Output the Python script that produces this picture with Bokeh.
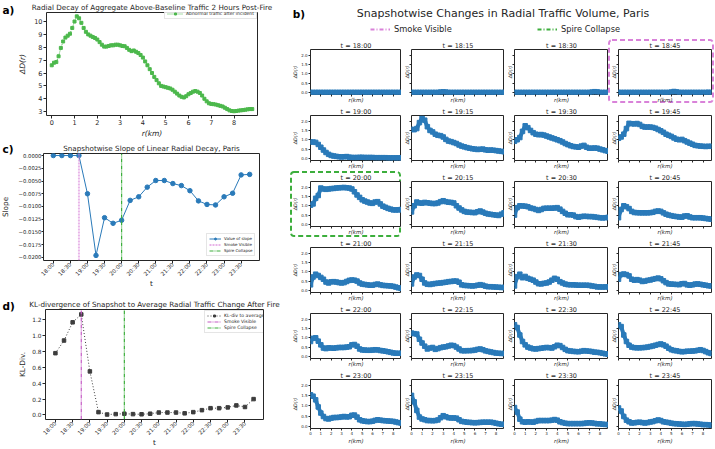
import math
from bokeh.plotting import figure
from bokeh.layouts import row, column
from bokeh.models import (Range1d, FixedTicker, Legend, LegendItem, Label,
                          CustomJSTickFormatter)
from bokeh.embed import file_html
from bokeh.resources import INLINE

FONT = "DejaVu Sans"
INK = "#262626"
FRAME = "#262626"
BLUE = "#2a7ab9"
GREEN = "#4cb84c"
SMOKE = "#d982d9"
SMOKE_DARK = "#c45ac4"
SPIRE = "#3cae3c"
KL_GRAY = "#3d3d3d"

# ---------------- data ----------------
# (a) aggregate above-baseline traffic change by radius, 2 h after the fire
r_agg_km = [0.0, 0.1, 0.2, 0.3, 0.4, 0.5, 0.6, 0.7, 0.8, 0.9,
            1.0, 1.1, 1.2, 1.3, 1.4, 1.5, 1.6, 1.7, 1.8, 1.9,
            2.0, 2.1, 2.2, 2.3, 2.4, 2.5, 2.6, 2.7, 2.8, 2.9,
            3.0, 3.1, 3.2, 3.3, 3.4, 3.5, 3.6, 3.7, 3.8, 3.9,
            4.0, 4.1, 4.2, 4.3, 4.4, 4.5, 4.6, 4.7, 4.8, 4.9,
            5.0, 5.1, 5.2, 5.3, 5.4, 5.5, 5.6, 5.7, 5.8, 5.9,
            6.0, 6.1, 6.2, 6.3, 6.4, 6.5, 6.6, 6.7, 6.8, 6.9,
            7.0, 7.1, 7.2, 7.3, 7.4, 7.5, 7.6, 7.7, 7.8, 7.9,
            8.0, 8.1, 8.2, 8.3, 8.4, 8.5, 8.6, 8.7, 8.8]
agg_delta = [6.60, 6.80, 6.85, 7.30, 7.95, 8.45, 8.75, 8.90, 9.05, 9.50,
             10.00, 10.40, 10.25, 9.90, 9.50, 9.20, 9.00, 8.90, 8.80, 8.72,
             8.60, 8.40, 8.20, 8.05, 8.05, 8.10, 8.15, 8.15, 8.20, 8.20,
             8.15, 8.10, 8.08, 7.95, 7.80, 7.70, 7.75, 7.65, 7.55, 7.40,
             7.20, 6.90, 6.60, 6.30, 6.00, 5.70, 5.45, 5.20, 5.00, 4.95,
             4.90, 4.85, 4.80, 4.70, 4.55, 4.40, 4.25, 4.15, 4.10, 4.20,
             4.35, 4.45, 4.55, 4.60, 4.55, 4.45, 4.25, 4.00, 3.80, 3.65,
             3.60, 3.58, 3.55, 3.50, 3.45, 3.40, 3.30, 3.20, 3.10, 3.05,
             3.03, 3.05, 3.08, 3.10, 3.12, 3.15, 3.18, 3.20, 3.20]

# snapshot times (15 min)
snap_times = ["18:00", "18:15", "18:30", "18:45", "19:00", "19:15", "19:30", "19:45",
              "20:00", "20:15", "20:30", "20:45", "21:00", "21:15", "21:30", "21:45",
              "22:00", "22:15", "22:30", "22:45", "23:00", "23:15", "23:30", "23:45"]
smoke_time = "18:45"
spire_time = "20:00"

# (c) slope of the linear radial decay per snapshot
slope_vals = [0.0, 0.0, 0.0, 0.0, -0.0075, -0.0196, -0.0122, -0.0133,
              -0.0127, -0.0088, -0.0081, -0.0062, -0.0049, -0.0049, -0.0055, -0.0059,
              -0.0069, -0.0089, -0.0096, -0.0097, -0.0081, -0.0074, -0.0038, -0.0037]

# (d) KL divergence of each snapshot to the average post-fire profile
kl_vals = [0.78, 0.94, 1.17, 1.27, 0.55, 0.035, 0.005, 0.010,
           0.015, 0.010, 0.008, 0.015, 0.030, 0.030, 0.030, 0.020,
           0.035, 0.060, 0.085, 0.085, 0.095, 0.120, 0.100, 0.200]

# (b) radial traffic change per snapshot
r_snap_km = [0.0, 0.25, 0.5, 0.75, 1.0, 1.25, 1.5, 1.75, 2.0, 2.25, 2.5, 2.75,
             3.0, 3.25, 3.5, 3.75, 4.0, 4.25, 4.5, 4.75, 5.0, 5.25, 5.5, 5.75,
             6.0, 6.25, 6.5, 6.75, 7.0, 7.25, 7.5, 7.75, 8.0, 8.25, 8.5, 8.75]
d_1800 = [0.0, 0.0, 0.0, 0.0, 0.0, 0.0, 0.0, 0.0, 0.0, 0.0, 0.0, 0.0,
          0.0, 0.0, 0.0, 0.0, 0.0, 0.0, 0.0, 0.0, 0.0, 0.0, 0.0, 0.0,
          0.0, 0.0, 0.0, 0.0, 0.0, 0.0, 0.0, 0.0, 0.0, 0.0, 0.0, 0.0]
d_1815 = [0.0, 0.0, 0.0, 0.0, 0.0, 0.0, 0.0, 0.0, 0.0, 0.0, 0.0, 0.02,
          0.03, 0.02, 0.0, 0.0, 0.0, 0.0, 0.0, 0.0, 0.0, 0.0, 0.0, 0.0,
          0.0, 0.0, 0.0, 0.0, 0.0, 0.0, 0.0, 0.0, 0.0, 0.0, 0.0, 0.0]
d_1830 = [0.0, 0.0, 0.0, 0.0, 0.0, 0.0, 0.0, 0.0, 0.0, 0.0, 0.0, 0.0,
          0.0, 0.0, 0.0, 0.0, 0.0, 0.0, 0.0, 0.0, 0.0, 0.0, 0.0, 0.0,
          0.0, 0.0, 0.0, 0.0, 0.0, 0.02, 0.04, 0.03, 0.0, 0.0, 0.0, 0.0]
d_1845 = [0.0, 0.0, 0.0, 0.0, 0.0, 0.0, 0.0, 0.0, 0.0, 0.0, 0.0, 0.0,
          0.0, 0.0, 0.0, 0.0, 0.0, 0.0, 0.0, 0.0, 0.02, 0.05, 0.03, 0.0,
          0.0, 0.0, 0.0, 0.0, 0.0, 0.0, 0.0, 0.0, 0.0, 0.0, 0.01, 0.0]
d_1900 = [0.88, 0.88, 0.86, 0.75, 0.60, 0.45, 0.32, 0.22, 0.16, 0.13, 0.11, 0.09,
          0.08, 0.09, 0.10, 0.07, 0.05, 0.05, 0.05, 0.06, 0.06, 0.05, 0.05, 0.05,
          0.05, 0.04, 0.04, 0.04, 0.04, 0.04, 0.03, 0.03, 0.03, 0.03, 0.03, 0.03]
d_1915 = [1.56, 1.54, 1.60, 1.92, 2.15, 2.05, 1.70, 1.50, 1.42, 1.30, 1.24, 1.22,
          1.15, 1.02, 0.93, 0.90, 0.85, 0.80, 0.72, 0.66, 0.62, 0.58, 0.55, 0.52,
          0.50, 0.48, 0.49, 0.50, 0.46, 0.44, 0.45, 0.44, 0.42, 0.40, 0.38, 0.36]
d_1930 = [0.92, 1.00, 1.12, 1.45, 1.75, 1.65, 1.50, 1.38, 1.30, 1.27, 1.28, 1.25,
          1.20, 1.15, 1.10, 1.05, 1.00, 0.95, 0.88, 0.80, 0.74, 0.68, 0.64, 0.62,
          0.60, 0.66, 0.70, 0.60, 0.55, 0.55, 0.56, 0.55, 0.50, 0.46, 0.42, 0.39]
d_1945 = [1.08, 1.15, 1.30, 1.60, 1.88, 1.86, 1.85, 1.87, 1.82, 1.72, 1.68, 1.68,
          1.68, 1.66, 1.62, 1.55, 1.48, 1.40, 1.30, 1.24, 1.18, 1.10, 1.03, 1.00,
          1.02, 0.95, 0.88, 0.82, 0.76, 0.70, 0.68, 0.66, 0.65, 0.64, 0.65, 0.65]
d_2000 = [1.03, 1.10, 1.40, 1.55, 1.95, 1.90, 1.88, 1.90, 1.92, 1.93, 1.95, 1.96,
          1.97, 1.98, 1.96, 1.95, 1.90, 1.75, 1.58, 1.45, 1.32, 1.25, 1.20, 1.15,
          1.13, 1.20, 1.22, 1.10, 0.98, 0.92, 0.86, 0.82, 0.78, 0.78, 0.78, 0.80]
d_2015 = [0.67, 1.00, 1.20, 1.15, 1.14, 1.18, 1.16, 1.14, 1.12, 1.12, 1.15, 1.22,
          1.27, 1.22, 1.19, 1.18, 1.15, 1.00, 0.88, 0.78, 0.70, 0.66, 0.65, 0.64,
          0.63, 0.68, 0.72, 0.66, 0.60, 0.56, 0.54, 0.52, 0.50, 0.48, 0.55, 0.62]
d_2030 = [0.50, 0.90, 1.00, 0.99, 0.98, 0.95, 0.88, 0.85, 0.80, 0.75, 0.80, 0.86,
          0.87, 0.87, 0.87, 0.88, 0.90, 0.82, 0.70, 0.60, 0.52, 0.52, 0.50, 0.42,
          0.39, 0.42, 0.44, 0.43, 0.42, 0.42, 0.40, 0.38, 0.36, 0.35, 0.36, 0.38]
d_2045 = [0.36, 0.80, 1.00, 0.95, 0.85, 0.70, 0.64, 0.63, 0.62, 0.62, 0.62, 0.62,
          0.63, 0.65, 0.70, 0.72, 0.70, 0.62, 0.55, 0.50, 0.47, 0.44, 0.42, 0.40,
          0.39, 0.45, 0.46, 0.40, 0.36, 0.36, 0.36, 0.36, 0.34, 0.32, 0.30, 0.28]
d_2100 = [0.30, 0.72, 0.87, 0.80, 0.70, 0.60, 0.45, 0.40, 0.46, 0.47, 0.45, 0.42,
          0.40, 0.42, 0.48, 0.54, 0.56, 0.55, 0.50, 0.40, 0.34, 0.32, 0.30, 0.28,
          0.28, 0.32, 0.34, 0.30, 0.27, 0.26, 0.25, 0.24, 0.22, 0.18, 0.14, 0.11]
d_2115 = [0.35, 0.72, 0.83, 0.80, 0.60, 0.40, 0.33, 0.32, 0.35, 0.37, 0.39, 0.40,
          0.42, 0.44, 0.47, 0.48, 0.50, 0.50, 0.44, 0.30, 0.27, 0.26, 0.25, 0.24,
          0.25, 0.28, 0.31, 0.28, 0.23, 0.20, 0.20, 0.19, 0.18, 0.17, 0.16, 0.16]
d_2130 = [0.24, 0.74, 0.87, 0.68, 0.75, 0.65, 0.60, 0.55, 0.45, 0.36, 0.35, 0.38,
          0.40, 0.45, 0.55, 0.65, 0.60, 0.47, 0.40, 0.34, 0.31, 0.30, 0.30, 0.29,
          0.28, 0.28, 0.28, 0.28, 0.27, 0.24, 0.22, 0.19, 0.19, 0.18, 0.19, 0.19]
d_2145 = [0.60, 0.85, 0.88, 0.85, 0.78, 0.60, 0.55, 0.58, 0.55, 0.48, 0.50, 0.54,
          0.56, 0.60, 0.63, 0.66, 0.62, 0.52, 0.42, 0.35, 0.34, 0.33, 0.32, 0.31,
          0.36, 0.37, 0.30, 0.28, 0.30, 0.34, 0.35, 0.33, 0.30, 0.28, 0.25, 0.24]
d_2200 = [0.80, 0.97, 1.00, 0.82, 0.62, 0.45, 0.42, 0.46, 0.45, 0.44, 0.46, 0.48,
          0.48, 0.48, 0.50, 0.52, 0.62, 0.64, 0.55, 0.40, 0.35, 0.34, 0.33, 0.33,
          0.34, 0.36, 0.35, 0.32, 0.30, 0.28, 0.25, 0.22, 0.19, 0.17, 0.17, 0.17]
d_2215 = [1.25, 1.22, 1.20, 0.92, 0.72, 0.55, 0.40, 0.45, 0.48, 0.38, 0.42, 0.47,
          0.50, 0.52, 0.56, 0.60, 0.58, 0.50, 0.40, 0.31, 0.30, 0.31, 0.31, 0.32,
          0.34, 0.38, 0.40, 0.36, 0.30, 0.27, 0.24, 0.21, 0.18, 0.17, 0.16, 0.16]
d_2230 = [1.70, 1.55, 1.15, 0.80, 0.62, 0.50, 0.45, 0.41, 0.40, 0.42, 0.44, 0.46,
          0.48, 0.47, 0.45, 0.52, 0.60, 0.58, 0.48, 0.38, 0.31, 0.29, 0.27, 0.26,
          0.25, 0.28, 0.31, 0.29, 0.28, 0.26, 0.23, 0.22, 0.20, 0.17, 0.14, 0.12]
d_2245 = [1.70, 1.60, 1.15, 0.80, 0.60, 0.50, 0.47, 0.46, 0.46, 0.47, 0.48, 0.50,
          0.53, 0.56, 0.60, 0.64, 0.67, 0.62, 0.55, 0.44, 0.36, 0.32, 0.30, 0.27,
          0.25, 0.26, 0.28, 0.28, 0.29, 0.30, 0.33, 0.36, 0.32, 0.26, 0.20, 0.16]
d_2300 = [1.55, 1.48, 1.30, 0.95, 0.65, 0.48, 0.38, 0.36, 0.40, 0.43, 0.43, 0.44,
          0.46, 0.48, 0.46, 0.47, 0.54, 0.55, 0.45, 0.32, 0.27, 0.25, 0.23, 0.23,
          0.25, 0.29, 0.32, 0.30, 0.28, 0.27, 0.26, 0.25, 0.24, 0.21, 0.18, 0.16]
d_2315 = [1.52, 1.20, 0.78, 0.45, 0.36, 0.32, 0.28, 0.28, 0.27, 0.28, 0.31, 0.42,
          0.52, 0.47, 0.42, 0.41, 0.41, 0.40, 0.32, 0.24, 0.22, 0.20, 0.19, 0.18,
          0.17, 0.18, 0.19, 0.20, 0.20, 0.20, 0.20, 0.18, 0.15, 0.12, 0.10, 0.09]
d_2330 = [0.92, 0.70, 0.35, 0.22, 0.20, 0.22, 0.21, 0.20, 0.24, 0.28, 0.28, 0.28,
          0.28, 0.28, 0.30, 0.33, 0.30, 0.22, 0.18, 0.15, 0.13, 0.13, 0.13, 0.13,
          0.13, 0.13, 0.14, 0.16, 0.17, 0.16, 0.14, 0.12, 0.12, 0.10, 0.09, 0.08]
d_2345 = [0.90, 0.75, 0.48, 0.30, 0.22, 0.16, 0.17, 0.19, 0.20, 0.18, 0.16, 0.18,
          0.21, 0.23, 0.27, 0.31, 0.28, 0.22, 0.20, 0.18, 0.15, 0.13, 0.12, 0.11,
          0.10, 0.09, 0.10, 0.12, 0.13, 0.13, 0.11, 0.10, 0.08, 0.08, 0.07, 0.05]
snap_series = [d_1800, d_1815, d_1830, d_1845, d_1900, d_1915, d_1930, d_1945,
               d_2000, d_2015, d_2030, d_2045, d_2100, d_2115, d_2130, d_2145,
               d_2200, d_2215, d_2230, d_2245, d_2300, d_2315, d_2330, d_2345]


# ---------------- helpers ----------------
def make_fig(width, height, xr, yr, borders, title=""):
    left, right, top, bottom = borders
    p = figure(width=width, height=height,
               x_range=Range1d(*xr), y_range=Range1d(*yr),
               output_backend="svg", toolbar_location=None,
               min_border_left=left, min_border_right=right,
               min_border_top=top, min_border_bottom=bottom)
    p.title.text = title
    p.title.text_font = FONT
    p.title.text_font_style = "normal"
    p.title.text_color = INK
    p.title.align = "center"
    p.title.standoff = 1
    p.grid.visible = False
    p.outline_line_color = FRAME
    p.outline_line_width = 1
    for ax in p.axis:
        ax.axis_line_color = None
        ax.major_tick_line_color = INK
        ax.major_tick_line_width = 1
        ax.minor_tick_line_color = None
        ax.major_tick_in = 0
        ax.major_tick_out = 3
        ax.major_label_standoff = 1
        ax.axis_label_standoff = 1
        ax.major_label_text_font = FONT
        ax.major_label_text_color = INK
        ax.axis_label_text_font = FONT
        ax.axis_label_text_color = INK
        ax.axis_label_text_font_style = "normal"
    return p


def side_strip(width, height, tag_text, tag_drop, yr=(0, 1)):
    """Narrow canvas left of a panel; its title carries the panel letter."""
    s = figure(width=width, height=height, x_range=Range1d(0, width),
               y_range=Range1d(*yr), output_backend="svg",
               toolbar_location=None, x_axis_location=None, y_axis_location=None,
               min_border=0, outline_line_color=None)
    s.grid.visible = False
    s.title.text = tag_text
    s.title.text_font = FONT
    s.title.text_font_size = "10.5px"
    s.title.text_font_style = "bold"
    s.title.text_color = "black"
    s.title.align = "left"
    s.title.offset = 2
    s.title.standoff = -tag_drop
    return s


def small_legend(items, loc, font_size, glyph_w):
    return Legend(items=items, location=loc, label_text_font=FONT,
                  label_text_font_size=font_size, label_text_color=INK,
                  glyph_width=glyph_w, glyph_height=5, label_height=5,
                  label_standoff=3, padding=2, spacing=1, margin=0,
                  border_line_color="#cccccc", border_line_width=1,
                  background_fill_alpha=0.85)


def time_axis(p):
    p.xaxis.ticker = FixedTicker(ticks=half_hour_ticks)
    p.xaxis.major_label_overrides = time_labels
    p.xaxis.major_label_orientation = math.pi / 4
    p.xaxis.major_label_text_font_size = "5.5px"
    p.xaxis.major_label_standoff = 0
    p.xaxis.axis_label = "t"
    p.xaxis.axis_label_text_font_size = "7.3px"
    p.xaxis.axis_label_standoff = -3


def dashed_box_style(w, h, color, inset):
    """CSS background drawing a rounded dashed frame around a whole subplot."""
    x0, y0, x1, y1 = inset
    svg = ("<svg xmlns='http://www.w3.org/2000/svg' width='%d' height='%d'>"
           "<rect x='%g' y='%g' width='%g' height='%g' rx='3' fill='none' "
           "stroke='%s' stroke-width='2' stroke-dasharray='5 3'/></svg>"
           % (w, h, x0, y0, w - x0 - x1, h - y0 - y1, color.replace("#", "%23")))
    return {"background-image": 'url("data:image/svg+xml;utf8,%s")' % svg,
            "background-repeat": "no-repeat",
            "background-position": "0px 0px",
            "background-size": "%dpx %dpx" % (w, h)}


t_index = list(range(len(snap_times)))
half_hour_ticks = t_index[::2]
time_labels = {i: snap_times[i] for i in half_hour_ticks}
smoke_idx = snap_times.index(smoke_time)
spire_idx = snap_times.index(spire_time)

# ---------------- (a) ----------------
strip_a = side_strip(15, 140, "a)", 6)
pa = make_fig(275, 140, (-0.23, 9.03), (2.7, 10.7), (29, 33, 12, 22),
              "Radial Decay of Aggregate Above-Baseline Traffic 2 Hours Post-Fire")
pa.title.text_font_size = "7.2px"
pa.xaxis.ticker = FixedTicker(ticks=[0, 1, 2, 3, 4, 5, 6, 7, 8])
pa.yaxis.ticker = FixedTicker(ticks=[3, 4, 5, 6, 7, 8, 9, 10])
pa.axis.major_label_text_font_size = "6.5px"
pa.axis.axis_label_text_font_size = "7.5px"
pa.axis.axis_label_text_font_style = "italic"
pa.xaxis.axis_label = "r(km)"
pa.yaxis.axis_label = "ΔD(r)"
pa.yaxis.axis_label_standoff = 4
a_line = pa.line(r_agg_km, agg_delta, color=GREEN, line_width=1, line_dash="1 1")
a_pts = pa.scatter(r_agg_km, agg_delta, marker="square", size=3, color=GREEN)
pa.add_layout(small_legend([LegendItem(label="Abnormal traffic after incident",
                                       renderers=[a_line, a_pts])],
                           (118, 96), "4.5px", 16))

# ---------------- (c) ----------------
C_YLIM = (-0.0206, 0.0004)
strip_c = side_strip(15, 150, "c)", 3, C_YLIM)
strip_c.add_layout(Label(x=5, y=sum(C_YLIM) / 2, text="Slope", angle=math.pi / 2,
                         text_font=FONT, text_font_size="7.3px", text_color=INK,
                         text_align="center", text_baseline="middle"))
pc = make_fig(275, 150, (-1.15, 24.15), C_YLIM, (25, 31, 13, 28),
              "Snapshotwise Slope of Linear Radial Decay, Paris")
pc.title.text_font_size = "7.2px"
time_axis(pc)
pc.yaxis.ticker = FixedTicker(ticks=[0.0, -0.0025, -0.005, -0.0075, -0.01,
                                     -0.0125, -0.015, -0.0175, -0.02])
pc.yaxis.formatter = CustomJSTickFormatter(
    code="return tick.toFixed(4).replace('-', '\u2212')")
pc.yaxis.major_label_text_font_size = "5.3px"
pc.yaxis.major_label_standoff = 0
pc.yaxis.major_tick_out = 2
c_line = pc.line(t_index, slope_vals, color=BLUE, line_width=1)
c_pts = pc.scatter(t_index, slope_vals, marker="circle", size=4.5, color=BLUE)
c_smoke = pc.line([smoke_idx, smoke_idx], list(C_YLIM), color=SMOKE, line_width=2,
                  line_alpha=0.6, line_dash="2 1")
c_spire = pc.line([spire_idx, spire_idx], list(C_YLIM), color=SPIRE, line_width=1.2,
                  line_dash="4 1 1 1")
pc.add_layout(small_legend([LegendItem(label="Value of slope", renderers=[c_line, c_pts]),
                            LegendItem(label="Smoke Visible", renderers=[c_smoke]),
                            LegendItem(label="Spire Collapse", renderers=[c_spire])],
                           (163, 4), "4px", 12))

# ---------------- (d) ----------------
D_YLIM = (-0.058, 1.332)
strip_d = side_strip(15, 159, "d)", 4)
pd_ = make_fig(275, 159, (-1.15, 24.15), D_YLIM, (24, 27, 19, 28),
               "KL-divergence of Snapshot to Average Radial Traffic Change After Fire")
pd_.title.text_font_size = "7.2px"
time_axis(pd_)
pd_.yaxis.ticker = FixedTicker(ticks=[0.0, 0.2, 0.4, 0.6, 0.8, 1.0, 1.2])
pd_.yaxis.formatter = CustomJSTickFormatter(code="return tick.toFixed(1)")
pd_.yaxis.major_label_text_font_size = "5.8px"
pd_.yaxis.axis_label_text_font_size = "7.3px"
pd_.yaxis.axis_label_standoff = 2
pd_.yaxis.axis_label = "KL-Div."
d_line = pd_.line(t_index, kl_vals, color=KL_GRAY, line_width=1, line_dash="1 2")
d_pts = pd_.scatter(t_index, kl_vals, marker="square", size=3.5, color=KL_GRAY)
d_smoke = pd_.line([smoke_idx, smoke_idx], list(D_YLIM), color=SMOKE_DARK,
                   line_width=1.2, line_dash="4 1 1 1")
d_spire = pd_.line([spire_idx, spire_idx], list(D_YLIM), color=SPIRE,
                   line_width=1.2, line_dash="4 1 1 1")
pd_.add_layout(small_legend([LegendItem(label="KL-div to average", renderers=[d_line, d_pts]),
                             LegendItem(label="Smoke Visible", renderers=[d_smoke]),
                             LegendItem(label="Spire Collapse", renderers=[d_spire])],
                            (159, 86), "4.6px", 14))

left_col = column(row(strip_a, pa), row(strip_c, pc), row(strip_d, pd_))

# ---------------- (b) header ----------------
hdr = figure(width=425, height=39, x_range=Range1d(0, 1), y_range=Range1d(0, 1),
             title=None, output_backend="svg", toolbar_location=None,
             x_axis_location=None, y_axis_location=None, min_border=0,
             outline_line_color=None)
hdr.grid.visible = False
hdr.add_layout(Label(x=0.5, y=0.67, text="Snapshotwise Changes in Radial Traffic Volume, Paris",
                     text_font=FONT, text_font_size="11px", text_color=INK,
                     text_align="center", text_baseline="middle"))
hdr.add_layout(Label(x=0.005, y=0.80, text="b)", text_font=FONT, text_font_size="10.5px",
                     text_font_style="bold", text_color="black",
                     text_align="left", text_baseline="top"))
nan = float("nan")
h_smoke = hdr.line(x=[nan], y=[nan], color=SMOKE, line_width=2, line_dash="4 2 1 2")
h_spire = hdr.line(x=[nan], y=[nan], color=SPIRE, line_width=2, line_dash="4 2 1 2")
for rend, lab, x0 in ((h_smoke, "Smoke Visible", 80), (h_spire, "Spire Collapse", 247)):
    hdr.add_layout(Legend(items=[LegendItem(label=lab, renderers=[rend])], location=(x0, 5),
                          orientation="horizontal", label_text_font=FONT,
                          label_text_font_size="8.3px", label_text_color=INK,
                          glyph_width=20, glyph_height=8, label_height=8,
                          label_standoff=4, padding=0, margin=0,
                          border_line_color=None, background_fill_alpha=0))

# ---------------- (b) snapshot grid ----------------
SNAP_LEFT = [16, 8, 9, 8]
SNAP_RIGHT = [0, 0, 0, 4]
grid_rows = []
for k, (t_lbl, vals) in enumerate(zip(snap_times, snap_series)):
    rr, cc = divmod(k, 4)
    last_row = rr == 5
    bottom = 21 if last_row else 7
    w = SNAP_LEFT[cc] + 95 + SNAP_RIGHT[cc]
    h = 8 + 51 + bottom
    p = make_fig(w, h, (0, 8.8), (-0.11, 2.3),
                 (SNAP_LEFT[cc], SNAP_RIGHT[cc], 8, bottom), f"t = {t_lbl}")
    p.title.text_font_size = "6.5px"
    p.title.standoff = 0
    for ax in p.axis:
        ax.major_tick_out = 2
        ax.major_label_standoff = 1
        ax.axis_label_standoff = 0
        ax.major_label_text_font_size = "4px"
        ax.axis_label_text_font_style = "italic"
    p.xaxis.ticker = FixedTicker(ticks=[0, 1, 2, 3, 4, 5, 6, 7, 8])
    p.yaxis.ticker = FixedTicker(ticks=[0.0, 0.5, 1.0, 1.5, 2.0])
    p.yaxis.formatter = CustomJSTickFormatter(code="return tick.toFixed(1)")
    p.xaxis.axis_label = "r(km)"
    p.yaxis.axis_label = "ΔD(r)"
    p.xaxis.axis_label_text_font_size = "5.5px"
    p.yaxis.axis_label_text_font_size = "4.8px"
    if not last_row:
        p.xaxis.major_label_text_color = None
    if cc != 0:
        p.yaxis.major_label_text_color = None
    p.line(r_snap_km, vals, color=BLUE, line_width=4, line_join="round")
    p.scatter(r_snap_km, vals, marker="square", size=4.5, color=BLUE)
    if t_lbl == smoke_time:
        p.border_fill_alpha = 0
        p.styles = dashed_box_style(w, h, SMOKE, (1, 1, 2, 3))
    if t_lbl == spire_time:
        p.border_fill_alpha = 0
        p.styles = dashed_box_style(w, h, SPIRE, (1, 1, 1, 1))
    if cc == 0:
        grid_rows.append([])
    grid_rows[-1].append(p)

right_col = column(hdr, *[row(*figs) for figs in grid_rows])
layout = row(left_col, right_col)

open("out.html", "w").write(file_html(layout, INLINE))
